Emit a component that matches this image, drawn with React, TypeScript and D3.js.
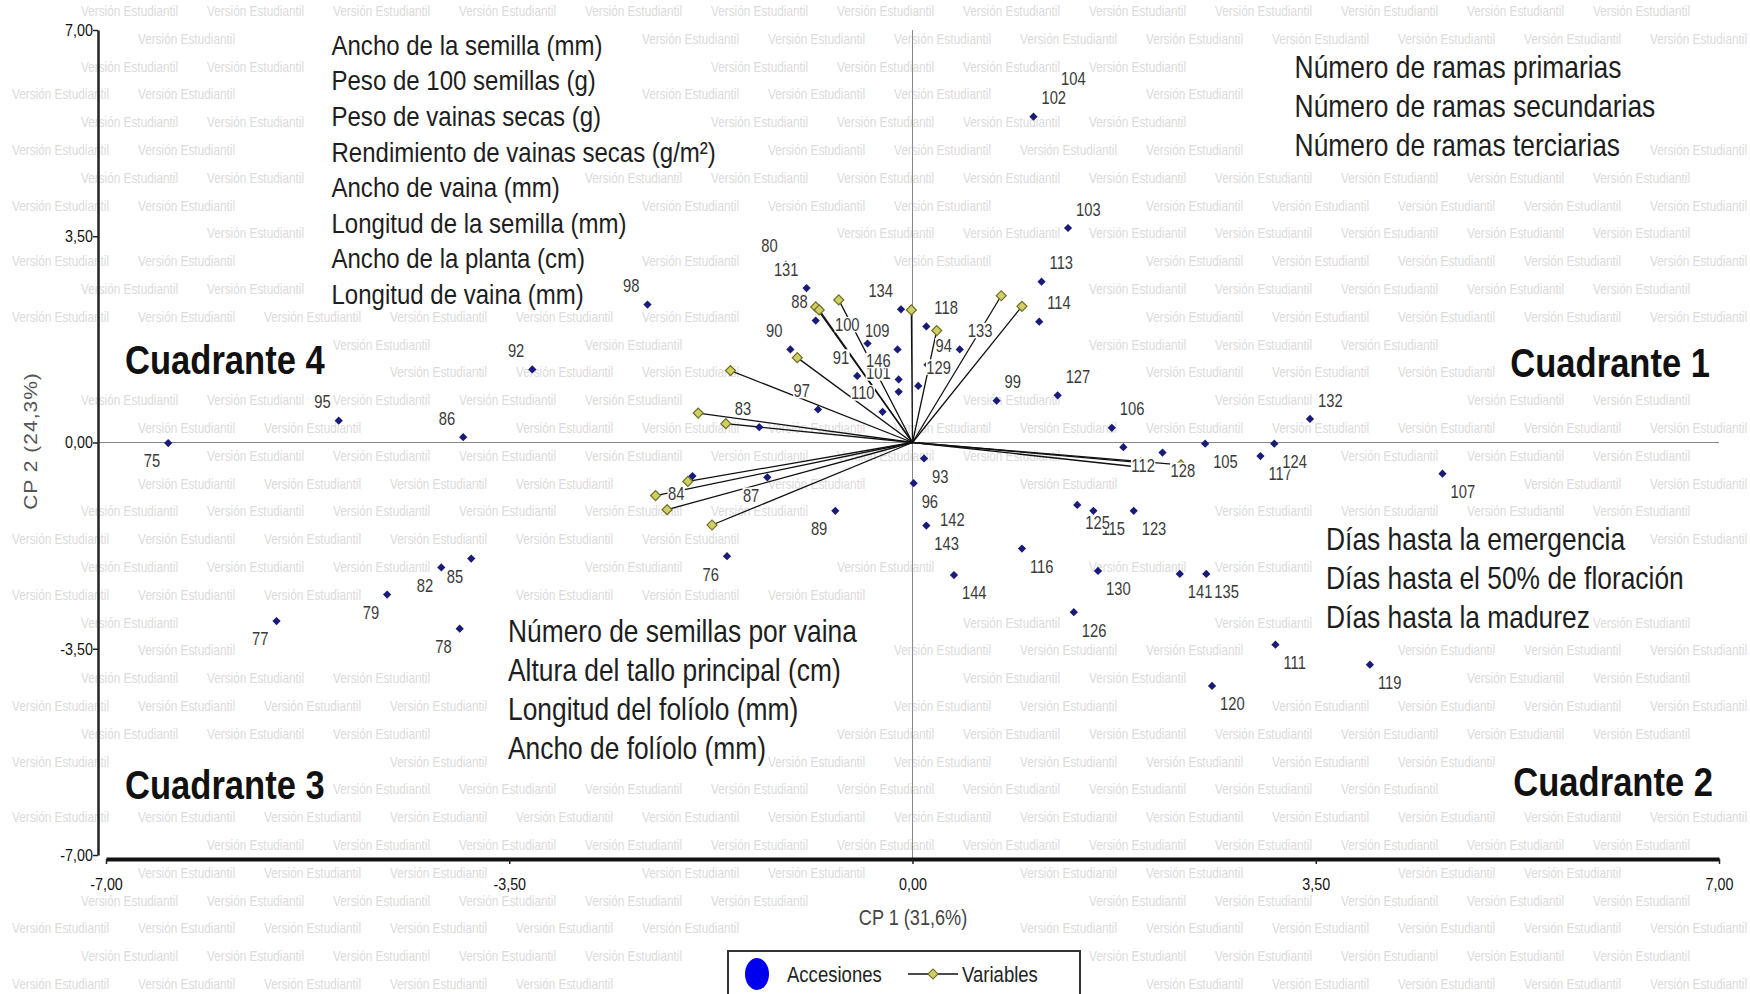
import { useEffect, useRef } from 'react'
import * as d3 from 'd3'

const W = 1750
const H = 994
const FONT = '"Liberation Sans", Arial, Helvetica, sans-serif'
const SX = 0.843 // the original figure is squeezed horizontally

const xTicks = [-7, -3.5, 0, 3.5, 7]
const yTicks = [-7, -3.5, 0, 3.5, 7]

// accession scores: [id, CP1, CP2]  (drawing order matters for the label boxes)
const accessions: [string, number, number][] = [
  ['75', -6.46, -0.01], ['95', -4.98, 0.37], ['86', -3.9, 0.09], ['92', -3.3, 1.24],
  ['98', -2.3, 2.34], ['77', -5.52, -3.03], ['79', -4.56, -2.58], ['82', -4.09, -2.12],
  ['85', -3.83, -1.97], ['78', -3.93, -3.16], ['76', -1.61, -1.93], ['89', -0.67, -1.16],
  ['84', -1.91, -0.57], ['87', -1.26, -0.59], ['83', -1.33, 0.26], ['97', -0.82, 0.56],
  ['90', -1.06, 1.58], ['88', -0.84, 2.07], ['80', -1.1, 3.02], ['131', -0.92, 2.62],
  ['134', -0.1, 2.26], ['109', -0.13, 1.58], ['100', -0.39, 1.68], ['91', -0.48, 1.13],
  ['101', -0.12, 0.86], ['146', -0.12, 1.07], ['110', -0.26, 0.52],
  ['104', 1.22, 5.85], ['102', 1.05, 5.53], ['103', 1.35, 3.64], ['113', 1.12, 2.73],
  ['114', 1.1, 2.05], ['118', 0.12, 1.97], ['94', 0.13, 1.32], ['133', 0.41, 1.58],
  ['129', 0.05, 0.96], ['99', 0.73, 0.71], ['127', 1.26, 0.8], ['106', 1.73, 0.25],
  ['132', 3.45, 0.4], ['105', 2.54, -0.02], ['117', 3.02, -0.23], ['124', 3.14, -0.02],
  ['112', 1.83, -0.08], ['128', 2.17, -0.17], ['107', 4.6, -0.53], ['93', 0.1, -0.27],
  ['142', 0.17, -1.01], ['96', 0.01, -0.69], ['143', 0.12, -1.41], ['144', 0.36, -2.25],
  ['116', 0.95, -1.8], ['115', 1.57, -1.16], ['125', 1.43, -1.06], ['123', 1.92, -1.16],
  ['130', 1.61, -2.18], ['126', 1.4, -2.88], ['141', 2.32, -2.23], ['135', 2.55, -2.23],
  ['111', 3.15, -3.43], ['119', 3.97, -3.77], ['120', 2.6, -4.13],
]

// variable loadings (vector ends) per quadrant
const loadingsQ4: [number, number][] = [
  [-0.84, 2.3], [-0.81, 2.25], [-0.64, 2.42], [-0.01, 2.25],
  [-1.0, 1.44], [-1.58, 1.22], [-1.86, 0.5], [-1.62, 0.32],
]
const loadingsQ1: [number, number][] = [[0.77, 2.49], [0.95, 2.31], [0.21, 1.9]]
const loadingsQ3: [number, number][] = [[-2.23, -0.9], [-2.13, -1.14], [-1.74, -1.4], [-1.95, -0.66]]
const loadingsQ2: [number, number][] = [[1.98, -0.34], [1.98, -0.42], [2.33, -0.38]]

const varsQ4 = [
  'Ancho de la semilla (mm)',
  'Peso de 100 semillas (g)',
  'Peso de vainas secas (g)',
  'Rendimiento de vainas secas (g/m²)',
  'Ancho de vaina (mm)',
  'Longitud de la semilla (mm)',
  'Ancho de la planta (cm)',
  'Longitud de vaina (mm)',
]
const varsQ1 = ['Número de ramas primarias', 'Número de ramas secundarias', 'Número de ramas terciarias']
const varsQ3 = [
  'Número de semillas por vaina',
  'Altura del tallo principal (cm)',
  'Longitud del folíolo (mm)',
  'Ancho de folíolo (mm)',
]
const varsQ2 = ['Días hasta la emergencia', 'Días hasta el 50% de floración', 'Días hasta la madurez']

const App = () => {
  const ref = useRef<SVGSVGElement>(null)

  useEffect(() => {
    const svg = d3.select(ref.current)
    svg.selectAll('*').remove()
    svg.attr('font-family', FONT)

    const x = d3.scaleLinear().domain([-7, 7]).range([106, 1719])
    const y = d3.scaleLinear().domain([-7, 7]).range([855, 30])
    const fmt = (d: any) => (+d).toFixed(2).replace('.', ',')

    // text with a white box behind it (squeezed like the source)
    const boxText = (parent: any, tx: number, ty: number, str: string, size: number, o: any = {}) => {
      const g = parent.append('g').attr('transform', `translate(${tx},${ty}) scale(${SX},1)`)
      const bg = g.append('rect').attr('fill', '#fff')
      const t = g.append('text')
        .attr('font-size', size)
        .attr('text-anchor', o.anchor || 'start')
        .attr('font-weight', o.weight || 'normal')
        .attr('fill', o.fill || '#222')
        .text(str)
      const bb = t.node().getBBox()
      const pad = o.pad == null ? 1 : o.pad
      bg.attr('x', bb.x - pad).attr('y', bb.y + (o.trim || 0))
        .attr('width', bb.width + pad * 2).attr('height', bb.height - 2 * (o.trim || 0))
      return g
    }

    svg.append('rect').attr('width', W).attr('height', H).attr('fill', '#fff')
    const wm = svg.append('g').attr('font-size', 14).attr('fill', '#dbdbdb')
    const fg = svg.append('g')

    // zero lines
    fg.append('line')
      .attr('x1', 98).attr('x2', x(7)).attr('y1', y(0)).attr('y2', y(0))
      .attr('stroke', '#888').attr('stroke-width', 1)
    fg.append('line')
      .attr('x1', x(0)).attr('x2', x(0)).attr('y1', y(7)).attr('y2', 859)
      .attr('stroke', '#888').attr('stroke-width', 1)

    // variable vectors
    const loadings = [...loadingsQ4, ...loadingsQ1, ...loadingsQ3, ...loadingsQ2]
    fg.append('g').selectAll('line').data(loadings).enter().append('line')
      .attr('x1', x(0)).attr('y1', y(0))
      .attr('x2', d => x(d[0])).attr('y2', d => y(d[1]))
      .attr('stroke', '#111').attr('stroke-width', 1.3)
    const diamondBig = d3.symbol(d3.symbolSquare, 50)
    fg.append('g').selectAll('path').data(loadings).enter().append('path')
      .attr('d', diamondBig)
      .attr('transform', d => `translate(${x(d[0])},${y(d[1])}) rotate(45)`)
      .attr('fill', '#cfcf6a').attr('stroke', '#6f6f1e').attr('stroke-width', 1.2)

    // accessions
    const diamond = d3.symbol(d3.symbolSquare, 34)
    fg.append('g').selectAll('path').data(accessions).enter().append('path')
      .attr('d', diamond)
      .attr('transform', d => `translate(${x(d[1])},${y(d[2])}) rotate(45)`)
      .attr('fill', '#1a1a78')

    const lab = fg.append('g')
    accessions.forEach(([id, a, b]) => {
      const left = a < 0
      const up = b > 0
      const tx = x(a) + (left ? -8 : 8)
      const ty = y(b) + (up ? -12.4 : 24.4)
      boxText(lab, tx, ty, id, 17.5, { anchor: left ? 'end' : 'start', fill: '#3a3a3a', pad: 0.5, trim: 2 })
    })

    // quadrant variable lists
    const q = fg.append('g')
    const list = (items: string[], x0: number, c0: number, step: number, fs: number) => {
      items.forEach((s, i) => boxText(q, x0, c0 + i * step + 0.358 * fs, s, fs, { fill: '#1e1e1e', pad: 2 }))
    }
    list(varsQ4, 331.5, 44.6, 35.6, 28.5)
    list(varsQ1, 1294.6, 67, 39, 31.3)
    list(varsQ3, 508, 630.5, 39, 31.3)
    list(varsQ2, 1326, 539, 39, 31.3)

    const cq = (s: string, tx: number, cy: number, anchor: string) =>
      boxText(q, tx, cy + 0.358 * 41, s, 41, { anchor, weight: 'bold', fill: '#111', pad: 4 })
    cq('Cuadrante 4', 125, 359, 'start')
    cq('Cuadrante 1', 1710, 362, 'end')
    cq('Cuadrante 3', 125, 784.6, 'start')
    cq('Cuadrante 2', 1713, 781, 'end')

    // axes
    const yAxis = fg.append('g').attr('transform', 'translate(98,0)')
      .call(d3.axisLeft(y).tickValues(yTicks).tickFormat(fmt).tickSize(5).tickSizeOuter(0).tickPadding(1))
    yAxis.select('.domain').attr('stroke', '#222').attr('stroke-width', 2.5)
    yAxis.selectAll('.tick line').attr('stroke', '#222').attr('stroke-width', 1.5)
    yAxis.selectAll('.tick text')
      .attr('font-size', 17).attr('fill', '#111').attr('font-family', FONT)
      .attr('transform', `scale(${SX},1)`)

    const xAxis = fg.append('g').attr('transform', 'translate(0,859)')
      .call(d3.axisBottom(x).tickValues(xTicks).tickFormat(fmt).tickSize(5).tickSizeOuter(0).tickPadding(14))
    xAxis.select('.domain').attr('stroke', '#111').attr('stroke-width', 4)
    xAxis.selectAll('.tick line').attr('stroke', '#222').attr('stroke-width', 1.5)
    xAxis.selectAll('.tick text')
      .attr('font-size', 17).attr('fill', '#111').attr('font-family', FONT)
      .attr('transform', `scale(${SX},1)`)

    // axis titles
    fg.append('text')
      .attr('transform', `translate(913,${917 + 0.35 * 21.5}) scale(${SX},1)`)
      .attr('text-anchor', 'middle').attr('font-size', 21.5).attr('fill', '#444')
      .text('CP 1 (31,6%)')
    fg.append('text')
      .attr('transform', `translate(${31 + 0.35 * 21 * SX},441) rotate(-90) scale(1,${SX})`)
      .attr('text-anchor', 'middle').attr('font-size', 21).attr('letter-spacing', 1).attr('fill', '#555')
      .text('CP 2 (24,3%)')

    // legend
    const lg = fg.append('g')
    lg.append('rect').attr('x', 728).attr('y', 951).attr('width', 352).attr('height', 60)
      .attr('fill', '#fff').attr('stroke', '#333').attr('stroke-width', 2)
    lg.append('ellipse').attr('cx', 757).attr('cy', 974).attr('rx', 12).attr('ry', 16).attr('fill', '#0000ee')
    lg.append('text').attr('transform', `translate(787,${974 + 0.358 * 22}) scale(${SX},1)`)
      .attr('font-size', 22).attr('fill', '#222').text('Accesiones')
    lg.append('line').attr('x1', 908).attr('x2', 958).attr('y1', 974).attr('y2', 974)
      .attr('stroke', '#111').attr('stroke-width', 1.3)
    lg.append('path').attr('d', diamondBig).attr('transform', 'translate(933,974) rotate(45)')
      .attr('fill', '#cfcf6a').attr('stroke', '#6f6f1e').attr('stroke-width', 1.2)
    lg.append('text').attr('transform', `translate(962,${974 + 0.358 * 22}) scale(${SX},1)`)
      .attr('font-size', 22).attr('fill', '#222').text('Variables')

    // "Versión Estudiantil" watermark behind everything; copies that would sit
    // under a foreground text or run off the page are left out
    const busy: DOMRect[] = []
    fg.selectAll('text').each(function (this: any) { busy.push(this.getBoundingClientRect()) })
    busy.push(new DOMRect(728, 951, 352, 60))
    for (let r = 0; r < 36; r++) {
      for (let c = -1; c < 15; c++) {
        const tx = (r % 2 ? 12 : -45) + c * 126
        const by = 16 + r * 27.8
        if (tx < 0 || tx + 100 > W) continue
        const hit = busy.some(b => tx < b.right && tx + 98 > b.left && by - 11 < b.bottom && by + 3 > b.top)
        if (hit) continue
        wm.append('text')
          .attr('transform', `translate(${tx},${by}) scale(${SX},1)`)
          .text('Versión Estudiantil')
      }
    }
  }, [])

  return (
    <svg ref={ref} width={W} height={H} style={{ position: 'absolute', left: 0, top: 0 }} />
  )
}

export default App
